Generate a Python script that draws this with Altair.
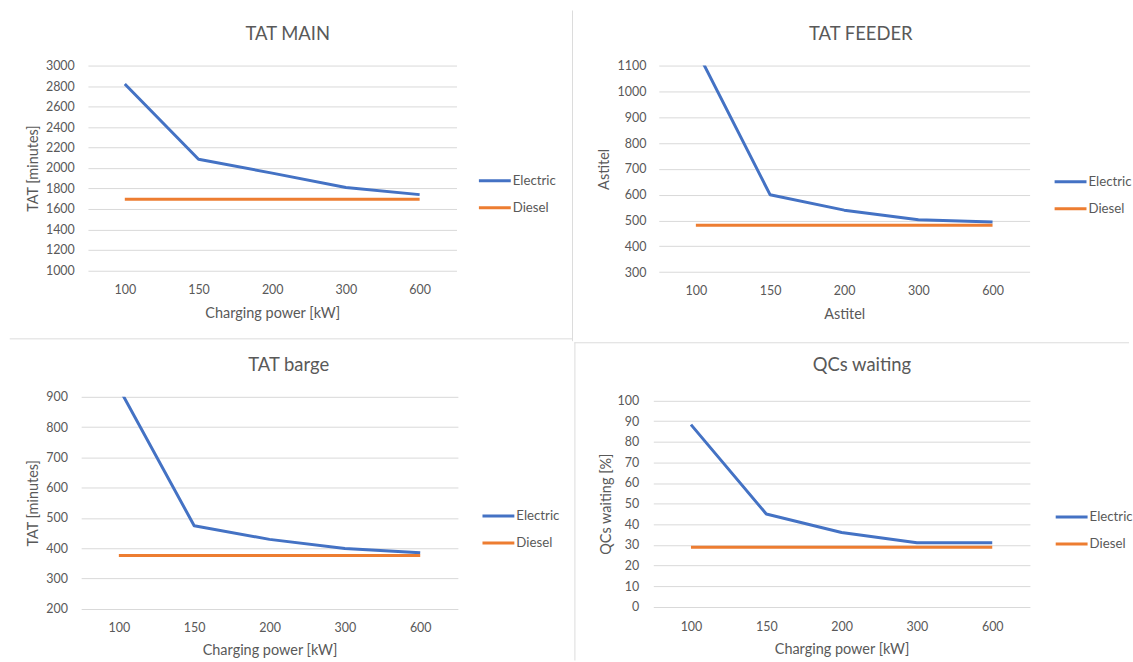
import altair as alt
import pandas as pd

# Charging power categories (kW) and the two fleet variants
power = ["100", "150", "200", "300", "600"]
series = ["Electric", "Diesel"]

# Turnaround time of main-line vessels, minutes
main_electric = [2820, 2085, 1950, 1810, 1740]
main_diesel = [1695, 1695, 1695, 1695, 1695]
main_ticks = [1000, 1200, 1400, 1600, 1800, 2000, 2200, 2400, 2600, 2800, 3000]

# Turnaround time of feeder vessels
feeder_electric = [1165, 600, 540, 503, 494]
feeder_diesel = [482, 482, 482, 482, 482]
feeder_ticks = [300, 400, 500, 600, 700, 800, 900, 1000, 1100]

# Turnaround time of barges, minutes
barge_electric = [930, 474, 429, 399, 385]
barge_diesel = [376, 376, 376, 376, 376]
barge_ticks = [200, 300, 400, 500, 600, 700, 800, 900]

# Share of time the quay cranes are waiting, %
qc_electric = [88.3, 45, 36, 31, 31]
qc_diesel = [28.8, 28.8, 28.8, 28.8, 28.8]
qc_ticks = [0, 10, 20, 30, 40, 50, 60, 70, 80, 90, 100]

FONT = "Lato"
INK = "#595959"
GRID = "#D9D9D9"
PALETTE = ["#4472C4", "#ED7D31"]


def panel(title, electric, diesel, ticks, y_title, x_title, *, width, height,
          x_range, y_range, title_dx, title_dy, y_extent, y_label_pad,
          x_label_pad, x_title_pad, legend_x, legend_y, frame_lines=()):
    df = pd.DataFrame({
        "power": power + power,
        "series": [series[0]] * len(power) + [series[1]] * len(power),
        "value": electric + diesel,
    })
    x = alt.X(
        "power:N", sort=power,
        scale=alt.Scale(type="point", range=x_range, padding=0.5),
        axis=alt.Axis(
            title=x_title, labelAngle=0, domain=False, ticks=False, tickSize=0, grid=False,
            labelFont=FONT, labelFontSize=12.5, labelColor=INK, labelPadding=x_label_pad,
            titleFont=FONT, titleFontSize=14.5, titleFontWeight="normal", titleColor=INK,
            titlePadding=x_title_pad, minExtent=30, maxExtent=30,
        ),
    )
    y = alt.Y(
        "value:Q",
        scale=alt.Scale(domain=[ticks[0], ticks[-1]], range=y_range, nice=False, zero=False),
        axis=alt.Axis(
            values=ticks, format="d", title=y_title, grid=True, gridColor=GRID, gridWidth=1,
            domain=False, ticks=False, tickSize=0,
            labelFont=FONT, labelFontSize=12.5, labelColor=INK, labelPadding=y_label_pad,
            titleFont=FONT, titleFontSize=14.5, titleFontWeight="normal", titleColor=INK,
            titlePadding=0, minExtent=y_extent, maxExtent=y_extent,
        ),
    )
    color = alt.Color(
        "series:N", sort=series,
        scale=alt.Scale(domain=series, range=PALETTE),
        legend=alt.Legend(
            title=None, orient="none", legendX=legend_x, legendY=legend_y,
            symbolType="M-1.6,0H1.6", symbolSize=400, symbolStrokeWidth=3,
            labelFont=FONT, labelFontSize=13.3, labelColor=INK,
            labelOffset=6.5, rowPadding=9, padding=0,
        ),
    )
    lines = alt.Chart(df).mark_line(
        strokeWidth=3, strokeJoin="round", strokeCap="butt", clip=True
    ).encode(x=x, y=y, color=color)

    layers = [lines]
    # thin separators between the chart tiles
    for x1, x2, y1, y2 in frame_lines:
        rule = alt.Chart(pd.DataFrame({"frame": [0]})).mark_rule(color="#DCDCDC", strokeWidth=1)
        if y1 == y2:
            rule = rule.encode(x=alt.value(x1), x2=alt.value(x2), y=alt.value(y1))
        else:
            rule = rule.encode(x=alt.value(x1), y=alt.value(y1), y2=alt.value(y2))
        layers.append(rule)

    return alt.layer(*layers).properties(
        width=width, height=height,
        title=alt.TitleParams(
            text=title, font=FONT, fontSize=18.5, fontWeight="normal", color=INK,
            anchor="middle", frame="group", baseline="bottom",
            offset=22, dx=title_dx, dy=title_dy,
        ),
    )


p1 = panel("TAT MAIN", main_electric, main_diesel, main_ticks,
           "TAT [minutes]", "Charging power [kW]",
           width=378.3, height=207.4, x_range=[6.8, 376.8], y_range=[205.7, 0],
           title_dx=18.2, title_dy=74.4, y_extent=40.5, y_label_pad=6.9,
           x_label_pad=11.5, x_title_pad=4.2, legend_x=403.8, legend_y=104.2,
           frame_lines=[(-71.7, 493.3, 274.4, 274.4), (493.3, 493.3, -55.3, 276.7)])

p2 = panel("TAT FEEDER", feeder_electric, feeder_diesel, feeder_ticks,
           "Astitel", "Astitel",
           width=378.1, height=207.4, x_range=[5.5, 377.8], y_range=[207.4, 0],
           title_dx=19.3, title_dy=24.4, y_extent=41.7, y_label_pad=7.4,
           x_label_pad=12.8, x_title_pad=5.8, legend_x=407.4, legend_y=105.2)

p3 = panel("TAT barge", barge_electric, barge_diesel, barge_ticks,
           "TAT [minutes]", "Charging power [kW]",
           width=378.3, height=212.7, x_range=[0, 378.2], y_range=[212.7, 0],
           title_dx=19.2, title_dy=25, y_extent=40.5, y_label_pad=13.7,
           x_label_pad=13.2, x_title_pad=5.2, legend_x=407.4, legend_y=108.2)

p4 = panel("QCs waiting", qc_electric, qc_diesel, qc_ticks,
           "QCs waiting [%]", "Charging power [kW]",
           width=378.1, height=212.7, x_range=[0, 378.1], y_range=[210.7, 3.7],
           title_dx=20.4, title_dy=73.7, y_extent=39.8, y_label_pad=14.6,
           x_label_pad=11.5, x_title_pad=3.5, legend_x=408.5, legend_y=109.2,
           frame_lines=[(-79.4, 477.6, -54.3, -54.3), (-78.7, -78.7, -54.3, 264.7)])

chart = (
    alt.concat(p1, p2, p3, p4, columns=2,
               spacing={"row": 124.6, "column": 195.4},
               bounds="flush", align="each")
    .resolve_scale(color="independent")
    .resolve_legend(color="independent")
    .properties(padding={"left": 8.5, "top": 8.5, "right": 0, "bottom": 0},
                background="white")
    .configure_view(strokeWidth=0)
)

chart.save("out.html", embed_options={"renderer": "svg", "actions": False})
